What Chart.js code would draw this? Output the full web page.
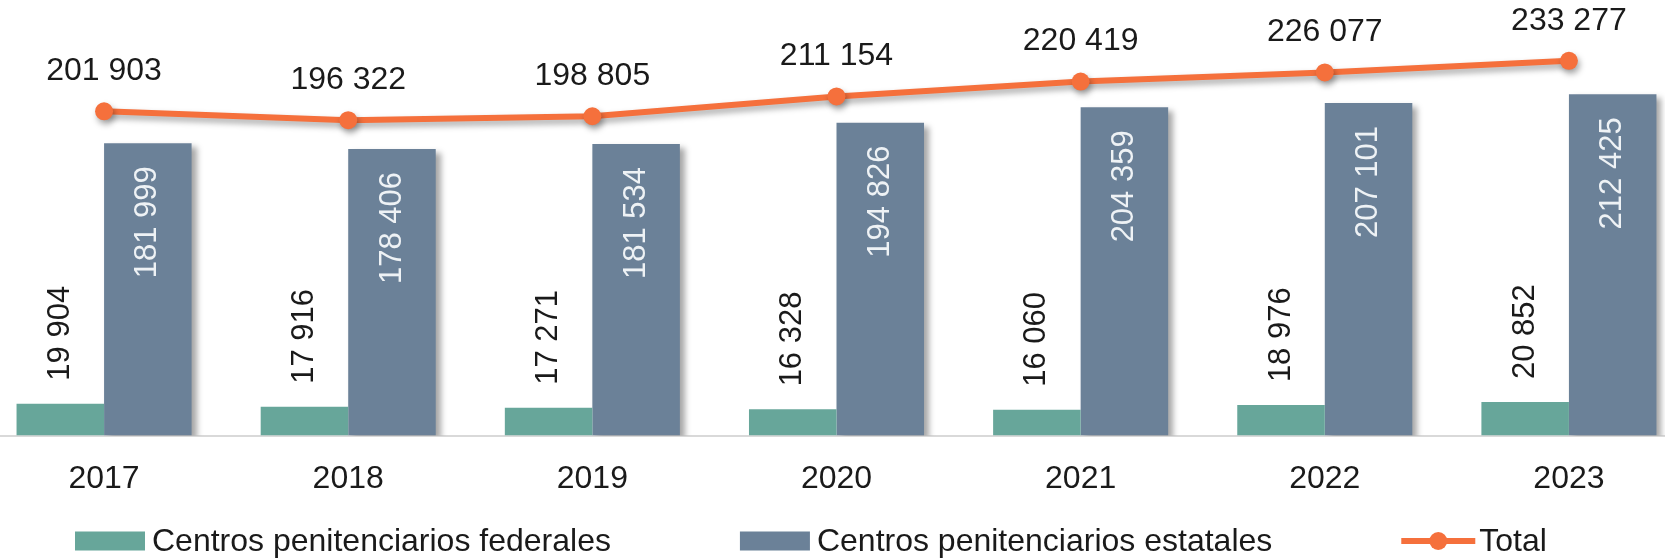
<!DOCTYPE html>
<html>
<head>
<meta charset="utf-8">
<script src="https://cdn.jsdelivr.net/npm/chart.js@4.4.1/dist/chart.umd.min.js"></script>
<style>
  html, body { margin: 0; padding: 0; background: #fff; overflow: hidden; }
  #wrap { position: relative; left: -18px; width: 1709px; height: 558px; }
</style>
</head>
<body>
<div id="wrap"><canvas id="chart"></canvas></div>
<script>
const years = ["2017", "2018", "2019", "2020", "2021", "2022", "2023"]
const federales = [19904, 17916, 17271, 16328, 16060, 18976, 20852]
const estatales = [181999, 178406, 181534, 194826, 204359, 207101, 212425]
const totales = [201903, 196322, 198805, 211154, 220419, 226077, 233277]
const seriesNames = ["Centros penitenciarios federales", "Centros penitenciarios estatales", "Total"]

const FONT = "'Liberation Sans', Arial, sans-serif"
const TEAL = "#67a69a"
const SLATE = "#6b8198"
const ORANGE = "#f5703c"
const SHIFT = 18 // canvas sits 18px left of the page edge

// 19904 -> "19 904"
const fmt = (v) => String(v).replace(/\B(?=(\d{3})+(?!\d))/g, " ")

// soft drop shadow on the state bars and the total line
const shadowPlugin = {
  id: "shadow",
  beforeDatasetDraw(chart, args) {
    const ctx = chart.ctx
    ctx.save()
    if (args.index === 0) return
    ctx.shadowColor = "rgba(0, 0, 0, 0.35)"
    ctx.shadowBlur = 6
    ctx.shadowOffsetX = args.index === 2 ? 2 : 5
    ctx.shadowOffsetY = 4
  },
  afterDatasetDraw(chart) {
    chart.ctx.restore()
  },
}

const labelsPlugin = {
  id: "valueLabels",
  afterDatasetsDraw(chart) {
    const ctx = chart.ctx
    ctx.save()
    ctx.textBaseline = "middle"

    chart.getDatasetMeta(0).data.forEach((bar, i) => {
      ctx.save()
      ctx.translate(bar.x, bar.y - 23)
      ctx.rotate(-Math.PI / 2)
      ctx.font = "31px " + FONT
      ctx.fillStyle = "#1a1a1a"
      ctx.textAlign = "left"
      ctx.fillText(fmt(federales[i]), 0, 0)
      ctx.restore()
    })

    chart.getDatasetMeta(1).data.forEach((bar, i) => {
      ctx.save()
      ctx.translate(bar.x, bar.y + 23)
      ctx.rotate(-Math.PI / 2)
      ctx.font = "31px " + FONT
      ctx.fillStyle = "#eef2f5"
      ctx.textAlign = "right"
      ctx.fillText(fmt(estatales[i]), 0, 0)
      ctx.restore()
    })

    ctx.font = "32px " + FONT
    ctx.fillStyle = "#1a1a1a"
    ctx.textAlign = "center"
    chart.getDatasetMeta(2).data.forEach((pt, i) => {
      ctx.fillText(fmt(totales[i]), pt.x, pt.y - 40)
    })
    ctx.restore()
  },
}

const legendPlugin = {
  id: "bottomLegend",
  afterDraw(chart) {
    const ctx = chart.ctx
    const y = 541
    let x = 75 + SHIFT
    ctx.save()
    ctx.font = "32px " + FONT
    ctx.textBaseline = "middle"
    ctx.textAlign = "left"
    chart.data.datasets.forEach((ds) => {
      if (ds.type === "line") {
        ctx.strokeStyle = ds.borderColor
        ctx.lineWidth = 6
        ctx.beginPath()
        ctx.moveTo(x, y)
        ctx.lineTo(x + 74, y)
        ctx.stroke()
        ctx.fillStyle = ds.borderColor
        ctx.beginPath()
        ctx.arc(x + 37, y, 9, 0, Math.PI * 2)
        ctx.fill()
        x += 78
      } else {
        ctx.fillStyle = ds.backgroundColor
        ctx.fillRect(x, y - 9.5, 70, 19)
        x += 77
      }
      ctx.fillStyle = "#1a1a1a"
      ctx.fillText(ds.label, x, y + 1)
      x += ctx.measureText(ds.label).width + 129
    })
    ctx.restore()
  },
}

new Chart(document.getElementById("chart"), {
  data: {
    labels: years,
    datasets: [
      {
        type: "bar",
        label: seriesNames[0],
        data: federales,
        backgroundColor: TEAL,
        categoryPercentage: 0.717,
        barPercentage: 1.0,
      },
      {
        type: "bar",
        label: seriesNames[1],
        data: estatales,
        backgroundColor: SLATE,
        categoryPercentage: 0.717,
        barPercentage: 1.0,
      },
      {
        type: "line",
        label: seriesNames[2],
        data: totales,
        borderColor: ORANGE,
        backgroundColor: ORANGE,
        borderWidth: 6,
        pointRadius: 9,
        pointBackgroundColor: ORANGE,
        pointBorderWidth: 0,
        tension: 0,
      },
    ],
  },
  options: {
    responsive: true,
    maintainAspectRatio: false,
    animation: false,
    layout: {
      autoPadding: false,
      padding: { top: 34, bottom: 60, left: 0, right: 0 },
    },
    plugins: {
      legend: { display: false },
      tooltip: { enabled: false },
    },
    scales: {
      x: {
        offset: true,
        grid: {
          display: true,
          drawOnChartArea: false,
          drawTicks: true,
          tickLength: 24,
          tickColor: "rgba(0,0,0,0)",
        },
        border: { display: true, color: "#d9d9d9", width: 2 },
        ticks: {
          color: "#1a1a1a",
          padding: 0,
          font: { family: FONT, size: 32 },
        },
      },
      y: {
        display: false,
        min: 0,
        max: 250000,
      },
    },
  },
  plugins: [shadowPlugin, labelsPlugin, legendPlugin],
})
</script>
</body>
</html>
